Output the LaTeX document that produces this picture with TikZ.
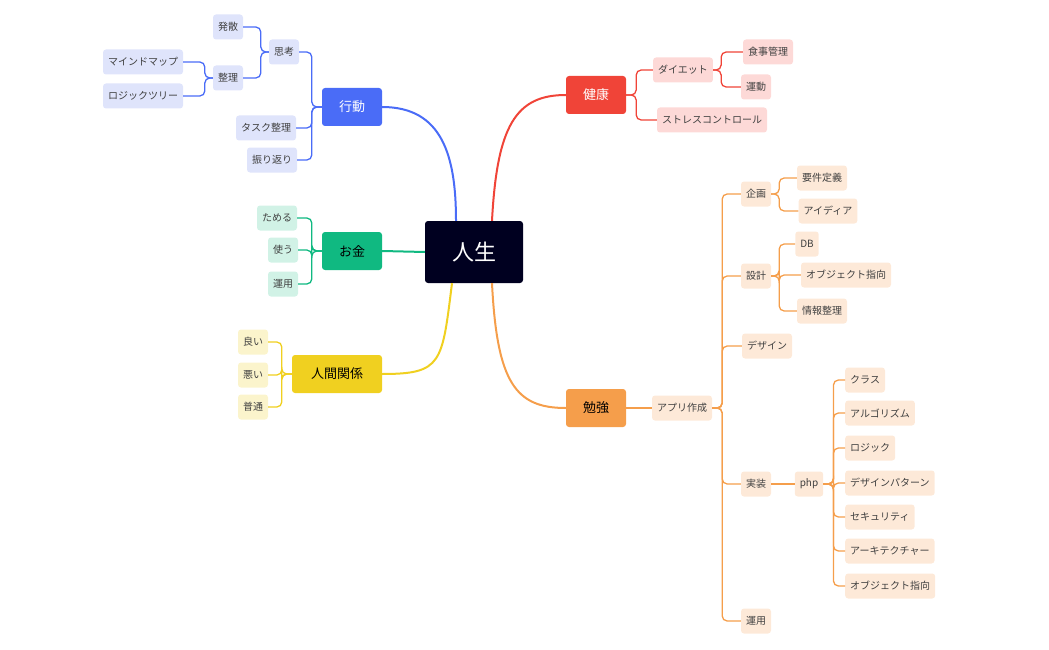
\documentclass[tikz,border=0pt]{standalone}
\usepackage{fontspec}
\setmainfont{Noto Sans CJK JP}
\usepackage{tikz}
\usetikzlibrary{calc}
\definecolor{cRoot}{HTML}{000020}
\definecolor{cBlue}{HTML}{4A6CF7}
\definecolor{cGreen}{HTML}{10B981}
\definecolor{cYellow}{HTML}{F0D020}
\definecolor{cRed}{HTML}{F04438}
\definecolor{cOrange}{HTML}{F59E4B}
\definecolor{lBlue}{HTML}{DFE4FB}
\definecolor{lGreen}{HTML}{D1F2E6}
\definecolor{lYellow}{HTML}{FBF4CC}
\definecolor{lRed}{HTML}{FDD9D7}
\definecolor{lOrange}{HTML}{FDE9D8}
\begin{document}
\begin{tikzpicture}[x=1pt, y=-1pt,
  main/.style={rounded corners=3pt, minimum height=38pt, minimum width=60pt, font=\fontsize{13}{15}\selectfont},
  leaf/.style={rounded corners=3pt, minimum height=25pt, inner xsep=5pt, text=black!75, font=\fontsize{10}{12}\selectfont},
  link/.style={line width=1.3pt, rounded corners=5pt},
  curve/.style={line width=2pt}]
  \useasboundingbox (0,0) rectangle (1049,650);

  % center and main branches
  \node[fill=cRoot, text=white, rounded corners=3pt, minimum width=98pt, minimum height=62pt, font=\fontsize{22}{24}\selectfont] (root) at (474,252) {人生};
  \node[main, fill=cBlue, text=white] (act) at (352,107) {行動};
  \node[main, fill=cGreen, text=black] (money) at (352,251) {お金};
  \node[main, fill=cYellow, text=black, minimum width=90pt] (rel) at (337,374) {人間関係};
  \node[main, fill=cRed, text=white] (health) at (596,95) {健康};
  \node[main, fill=cOrange, text=black] (study) at (596,408) {勉強};

  \draw[curve, cBlue] ([xshift=-18pt]root.north) .. controls +(0,-65) and +(60,0) .. (act.east);
  \draw[curve, cGreen] (root.west) -- (money.east);
  \draw[curve, cYellow] ([xshift=-22pt]root.south) .. controls +(-10,80) and +(60,0) .. (rel.east);
  \draw[curve, cRed] ([xshift=18pt]root.north) .. controls +(5,-95) and +(-50,0) .. (health.west);
  \draw[curve, cOrange] ([xshift=18pt]root.south) .. controls +(5,100) and +(-50,0) .. (study.west);

  % 行動
  \node[leaf, fill=lBlue] (think) at (284,52) {思考};
  \node[leaf, fill=lBlue] (diverge) at (228,27) {発散};
  \node[leaf, fill=lBlue] (arrange) at (228,78) {整理};
  \node[leaf, fill=lBlue] (mindmap) at (143,62) {マインドマップ};
  \node[leaf, fill=lBlue] (logictree) at (143,96) {ロジックツリー};
  \node[leaf, fill=lBlue] (task) at (266,128) {タスク整理};
  \node[leaf, fill=lBlue] (review) at (272,160) {振り返り};
  \foreach \c in {think,task,review}
    \draw[link, cBlue] (act.west) -- ++(-10,0) |- (\c.east);
  \foreach \c in {diverge,arrange}
    \draw[link, cBlue] (think.west) -- ++(-8,0) |- (\c.east);
  \foreach \c in {mindmap,logictree}
    \draw[link, cBlue] (arrange.west) -- ++(-8,0) |- (\c.east);

  % お金
  \node[leaf, fill=lGreen] (save) at (277,218) {ためる};
  \node[leaf, fill=lGreen] (use) at (283,250) {使う};
  \node[leaf, fill=lGreen] (invest) at (283,284) {運用};
  \foreach \c in {save,use,invest}
    \draw[link, cGreen] (money.west) -- ++(-10,0) |- (\c.east);

  % 人間関係
  \node[leaf, fill=lYellow] (good) at (253,342) {良い};
  \node[leaf, fill=lYellow] (bad) at (253,375) {悪い};
  \node[leaf, fill=lYellow] (normal) at (253,407) {普通};
  \foreach \c in {good,bad,normal}
    \draw[link, cYellow] (rel.west) -- ++(-10,0) |- (\c.east);

  % 健康
  \node[leaf, fill=lRed] (diet) at (683,70) {ダイエット};
  \node[leaf, fill=lRed] (meal) at (768,52) {食事管理};
  \node[leaf, fill=lRed] (exercise) at (756,87) {運動};
  \node[leaf, fill=lRed] (stress) at (712,120) {ストレスコントロール};
  \foreach \c in {diet,stress}
    \draw[link, cRed] (health.east) -- ++(10,0) |- (\c.west);
  \foreach \c in {meal,exercise}
    \draw[link, cRed] (diet.east) -- ++(8,0) |- (\c.west);

  % 勉強
  \node[leaf, fill=lOrange] (app) at (682,408) {アプリ作成};
  \draw[link, cOrange] (study.east) -- (app.west);
  \node[leaf, fill=lOrange] (plan) at (756,194) {企画};
  \node[leaf, fill=lOrange] (req) at (822,178) {要件定義};
  \node[leaf, fill=lOrange] (idea) at (828,211) {アイディア};
  \node[leaf, fill=lOrange] (design) at (756,276) {設計};
  \node[leaf, fill=lOrange] (db) at (807,244) {DB};
  \node[leaf, fill=lOrange] (oop) at (846,275) {オブジェクト指向};
  \node[leaf, fill=lOrange] (info) at (822,311) {情報整理};
  \node[leaf, fill=lOrange] (visual) at (767,346) {デザイン};
  \node[leaf, fill=lOrange] (impl) at (756,484) {実装};
  \node[leaf, fill=lOrange] (php) at (809,484) {php};
  \node[leaf, fill=lOrange] (ops) at (756,621) {運用};
  \foreach \c in {plan,design,visual,impl,ops}
    \draw[link, cOrange] (app.east) -- ++(10,0) |- (\c.west);
  \foreach \c in {req,idea}
    \draw[link, cOrange] (plan.east) -- ++(8,0) |- (\c.west);
  \foreach \c in {db,oop,info}
    \draw[link, cOrange] (design.east) -- ++(8,0) |- (\c.west);
  \draw[link, cOrange] (impl.east) -- (php.west);

  \foreach \n/\y/\t in {cls/380/クラス, algo/413/アルゴリズム, logic/448/ロジック,
      pattern/483/デザインパターン, sec/517/セキュリティ, arch/551/アーキテクチャー, oop2/586/オブジェクト指向} {
    \node[leaf, fill=lOrange, anchor=west] (\n) at (845,\y) {\t};
    \draw[link, cOrange] (php.east) -- ++(10,0) |- (\n.west);
  }
\end{tikzpicture}
\end{document}
